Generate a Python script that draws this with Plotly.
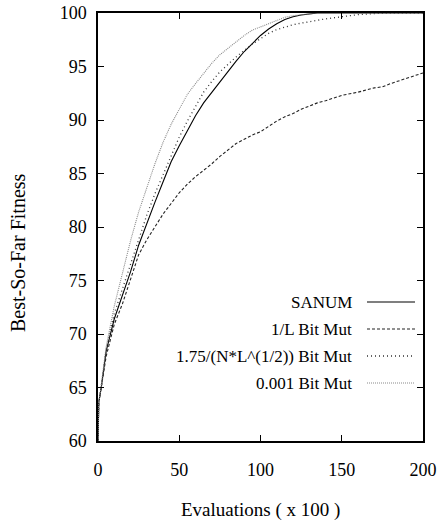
import plotly.graph_objects as go

evals = [0, 0.5, 2, 5, 10, 15, 20, 25, 30, 35, 40, 45, 50, 55, 60, 65, 70, 75, 80, 85, 90,
         95, 100, 105, 110, 115, 120, 125, 130, 135, 140, 150, 160, 170, 175, 180, 190, 200]

sanum = [60, 63.6, 65.0, 68.4, 71.4, 73.6, 75.8, 78.3, 80.4, 82.3, 84.2, 86.1, 87.6, 89.0, 90.4,
         91.6, 92.6, 93.6, 94.6, 95.5, 96.4, 97.2, 97.9, 98.5, 99.0, 99.4, 99.65, 99.82, 99.93,
         100, 100, 100, 100, 100, 100, 100, 100, 100]

inv_l = [60, 63.6, 65.0, 67.9, 70.9, 72.8, 75.1, 77.4, 78.8, 80.0, 81.2, 82.2, 83.2, 84.0, 84.7,
         85.3, 85.9, 86.6, 87.2, 87.8, 88.2, 88.6, 88.9, 89.4, 89.9, 90.3, 90.6, 91.0, 91.3,
         91.6, 91.8, 92.3, 92.6, 93.0, 93.1, 93.4, 93.9, 94.4]

sqrt_rate = [60, 63.6, 65.1, 68.5, 71.9, 74.2, 76.5, 78.8, 81.1, 83.1, 84.9, 86.7, 88.4, 89.9,
             91.3, 92.6, 93.6, 94.5, 95.2, 95.9, 96.5, 97.1, 97.6, 98.1, 98.45, 98.7, 98.9,
             99.05, 99.2, 99.35, 99.45, 99.65, 99.85, 99.95, 100, 100, 100, 100]

fixed_rate = [60, 63.6, 65.2, 68.8, 72.6, 75.6, 78.7, 81.4, 83.7, 85.9, 87.9, 89.6, 91.0, 92.4,
              93.4, 94.4, 95.3, 96.1, 96.7, 97.3, 97.9, 98.4, 98.7, 99.0, 99.35, 99.6, 99.75,
              99.85, 99.95, 100, 100, 100, 100, 100, 100, 100, 100, 100]

series_names = ["SANUM", "1/L Bit Mut", "1.75/(N*L^(1/2)) Bit Mut", "0.001 Bit Mut"]
series_values = [sanum, inv_l, sqrt_rate, fixed_rate]

x_ticks = [0, 50, 100, 150, 200]
y_ticks = [60, 65, 70, 75, 80, 85, 90, 95, 100]

styles = [
    dict(color="#000000", width=1.1, dash="solid"),
    dict(color="#222222", width=1.1, dash="3px,2px"),
    dict(color="#333333", width=1.3, dash="1px,3px"),
    dict(color="#8a8a8a", width=1.1, dash="1px,1px"),
]

FONT = "Liberation Serif, Times New Roman, serif"

fig = go.Figure()
for name, vals, st in zip(series_names, series_values, styles):
    fig.add_trace(go.Scatter(x=evals, y=vals, mode="lines", name=name, line=st,
                             showlegend=False))

# manual gnuplot-style key: right-aligned text, line sample to the right
W, H = 325.0, 428.0
key_rows = [302, 329, 356, 383]
for name, st, py in zip(series_names, styles, key_rows):
    yp = (441 - py) / H
    fig.add_annotation(x=(354 - 98) / W, y=yp, xref="paper", yref="paper",
                       text=name, showarrow=False, xanchor="right", yanchor="middle",
                       font=dict(family=FONT, size=17, color="#000"))
    fig.add_shape(type="line", xref="paper", yref="paper",
                  x0=(367 - 98) / W, x1=(415 - 98) / W, y0=yp, y1=yp,
                  line=st)

fig.add_annotation(x=0.5, y=(441 - 510) / H, xref="paper", yref="paper",
                   text="Evaluations ( x 100 )", showarrow=False,
                   xanchor="center", yanchor="middle",
                   font=dict(family=FONT, size=19, color="#000"))
fig.add_annotation(x=(18 - 98) / W, y=(441 - 253) / H, xref="paper", yref="paper",
                   text="Best-So-Far Fitness", showarrow=False, textangle=-90,
                   xanchor="center", yanchor="middle",
                   font=dict(family=FONT, size=20, color="#000"))

axis_common = dict(showgrid=False, zeroline=False, showline=True, linecolor="#000",
                   linewidth=1.5, mirror="ticks", ticks="inside", ticklen=6,
                   tickcolor="#000", tickwidth=1, automargin=False,
                   tickfont=dict(family=FONT, size=18, color="#000"))

fig.update_xaxes(range=[0, 200], tickvals=x_ticks, ticklabelstandoff=12, **axis_common)
fig.update_yaxes(range=[60, 100], tickvals=y_ticks, ticklabelstandoff=6, **axis_common)

fig.update_layout(width=439, height=526, margin=dict(l=98, r=16, t=13, b=85),
                  paper_bgcolor="white", plot_bgcolor="white", showlegend=False)

fig.write_html("out.html", config={"displayModeBar": False},
               post_script="document.body.style.margin='0';document.body.style.overflow='hidden';")
